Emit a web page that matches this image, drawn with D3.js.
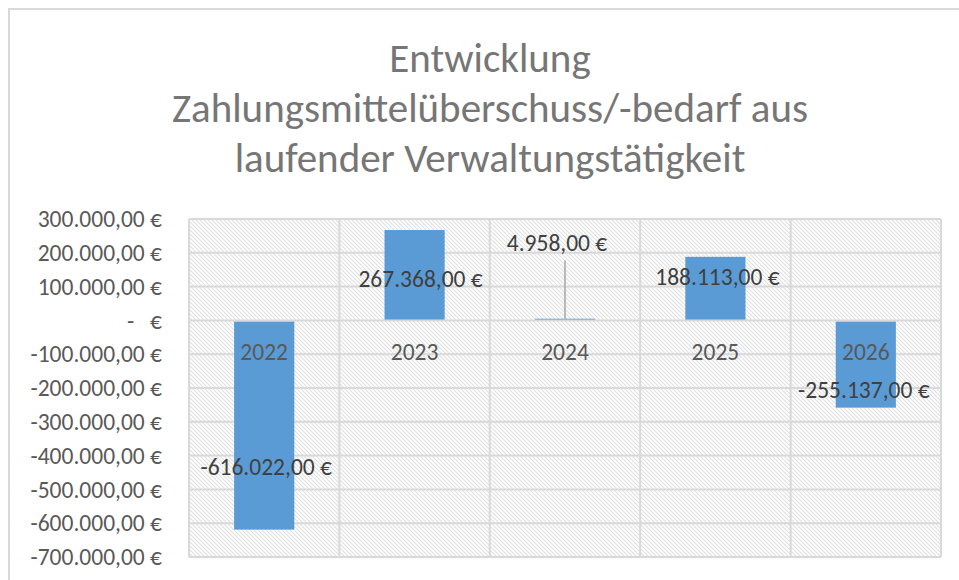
<!DOCTYPE html>
<html>
<head>
<meta charset="utf-8">
<script src="https://cdn.jsdelivr.net/npm/d3@7"></script>
<style>
  body { margin: 0; background: #fff; }
  svg text { font-family: Carlito, Calibri, Lato, sans-serif; }
</style>
</head>
<body>
<div id="chart"></div>
<script>
// data
var years = ["2022", "2023", "2024", "2025", "2026"];
var values = [-616022, 267368, 4958, 188113, -255137];
var yTicks = [300000, 200000, 100000, 0, -100000, -200000, -300000, -400000, -500000, -600000, -700000];
var titleLines = ["Entwicklung", "Zahlungsmittelüberschuss/-bedarf aus", "laufender Verwaltungstätigkeit"];

// data labels were dragged around in the original, so keep their offsets (px from zero line) apart
var labelShift = [
    {dx: 2, dy: 146},
    {dx: 6, dy: -42},
    {dx: -8, dy: -78},
    {dx: 2, dy: -44},
    {dx: -2, dy: 69}
];

var W = 959, H = 580;
var margin = {top: 219, right: 18, bottom: 23, left: 189};

var svg = d3.select("#chart").append("svg")
    .attr("width", W)
    .attr("height", H);

var defs = svg.append("defs");
var pat = defs.append("pattern")
    .attr("id", "hatch")
    .attr("patternUnits", "userSpaceOnUse")
    .attr("width", 4)
    .attr("height", 4);
pat.append("rect").attr("width", 4).attr("height", 4).attr("fill", "#fff");
pat.append("path")
    .attr("d", "M-1,-1 L5,5 M-1,3 L1,5 M3,-1 L5,1")
    .attr("stroke", "#e0e0e0")
    .attr("stroke-width", 1.1);

// chart frame (runs off the right/bottom edge like the screenshot)
svg.append("rect")
    .attr("x", 9).attr("y", 9)
    .attr("width", 980).attr("height", 600)
    .attr("fill", "none")
    .attr("stroke", "#d9d9d9")
    .attr("stroke-width", 2);

var plotW = W - margin.left - margin.right,
    plotH = H - margin.top - margin.bottom;

var x = d3.scaleBand()
    .domain(years)
    .range([margin.left, margin.left + plotW]);

var y = d3.scaleLinear()
    .domain([-700000, 300000])
    .range([margin.top + plotH, margin.top]);

var barW = x.bandwidth() * 0.4;

// plot area with hatch
svg.append("rect")
    .attr("x", margin.left).attr("y", margin.top)
    .attr("width", plotW).attr("height", plotH)
    .attr("fill", "url(#hatch)");

// gridlines
svg.append("g").selectAll("line")
    .data(yTicks.filter(function(d) { return d !== 0; }))
    .enter().append("line")
    .attr("x1", margin.left).attr("x2", margin.left + plotW)
    .attr("y1", function(d) { return y(d); })
    .attr("y2", function(d) { return y(d); })
    .attr("stroke", "#d9d9d9")
    .attr("stroke-width", 2);

var bounds = years.map(function(d) { return x(d); }).concat([margin.left + plotW]);
svg.append("g").selectAll("line")
    .data(bounds)
    .enter().append("line")
    .attr("x1", function(d) { return d; }).attr("x2", function(d) { return d; })
    .attr("y1", margin.top).attr("y2", margin.top + plotH)
    .attr("stroke", "#d9d9d9")
    .attr("stroke-width", 2);

// bars
svg.append("g").selectAll("rect")
    .data(values)
    .enter().append("rect")
    .attr("x", function(d, i) { return x(years[i]) + (x.bandwidth() - barW) / 2; })
    .attr("width", barW)
    .attr("y", function(d) { return d >= 0 ? y(d) : y(0) + 1; })
    .attr("height", function(d) { return Math.abs(y(d) - y(0)); })
    .attr("fill", "#5b9bd5");

// zero line on top
svg.append("line")
    .attr("x1", margin.left).attr("x2", margin.left + plotW)
    .attr("y1", y(0)).attr("y2", y(0))
    .attr("stroke", "#d9d9d9")
    .attr("stroke-width", 2);

// category labels sit on the zero line
svg.append("g").selectAll("text")
    .data(years)
    .enter().append("text")
    .attr("x", function(d) { return x(d) + x.bandwidth() / 2; })
    .attr("y", y(0) + 40)
    .attr("text-anchor", "middle")
    .attr("fill", "#595959")
    .style("font-size", "23.5px")
    .text(function(d) { return d; });

// y axis labels
var fmt = function(v) {
    if (v === 0) return "-\u00a0\u00a0\u00a0€";
    var s = d3.format(",.2f")(v);
    s = s.replace(/,/g, "#").replace(".", ",").replace(/#/g, ".").replace("\u2212", "-");
    return s + " €";
};
svg.append("g").selectAll("text")
    .data(yTicks)
    .enter().append("text")
    .attr("x", 162)
    .attr("y", function(d) { return y(d); })
    .attr("dy", "0.35em")
    .attr("text-anchor", "end")
    .attr("fill", "#595959")
    .style("font-size", "23.5px")
    .text(fmt);

// leader line for the small 2024 value
var i24 = years.indexOf("2024");
svg.append("line")
    .attr("x1", x("2024") + x.bandwidth() / 2)
    .attr("x2", x("2024") + x.bandwidth() / 2)
    .attr("y1", y(0) + labelShift[i24].dy + 18)
    .attr("y2", y(values[i24]))
    .attr("stroke", "#a6a6a6")
    .attr("stroke-width", 1.5);

// value labels
svg.append("g").selectAll("text")
    .data(values)
    .enter().append("text")
    .attr("x", function(d, i) { return x(years[i]) + x.bandwidth() / 2 + labelShift[i].dx; })
    .attr("y", function(d, i) { return y(0) + labelShift[i].dy; })
    .attr("dy", "0.35em")
    .attr("text-anchor", "middle")
    .attr("fill", "#404040")
    .style("font-size", "23.5px")
    .text(fmt);

// title
svg.append("g").selectAll("text")
    .data(titleLines)
    .enter().append("text")
    .attr("x", 490)
    .attr("y", function(d, i) { return 72 + i * 50; })
    .attr("text-anchor", "middle")
    .attr("fill", "#767676")
    .style("font-size", "41px")
    .text(function(d) { return d; });
</script>
</body>
</html>
